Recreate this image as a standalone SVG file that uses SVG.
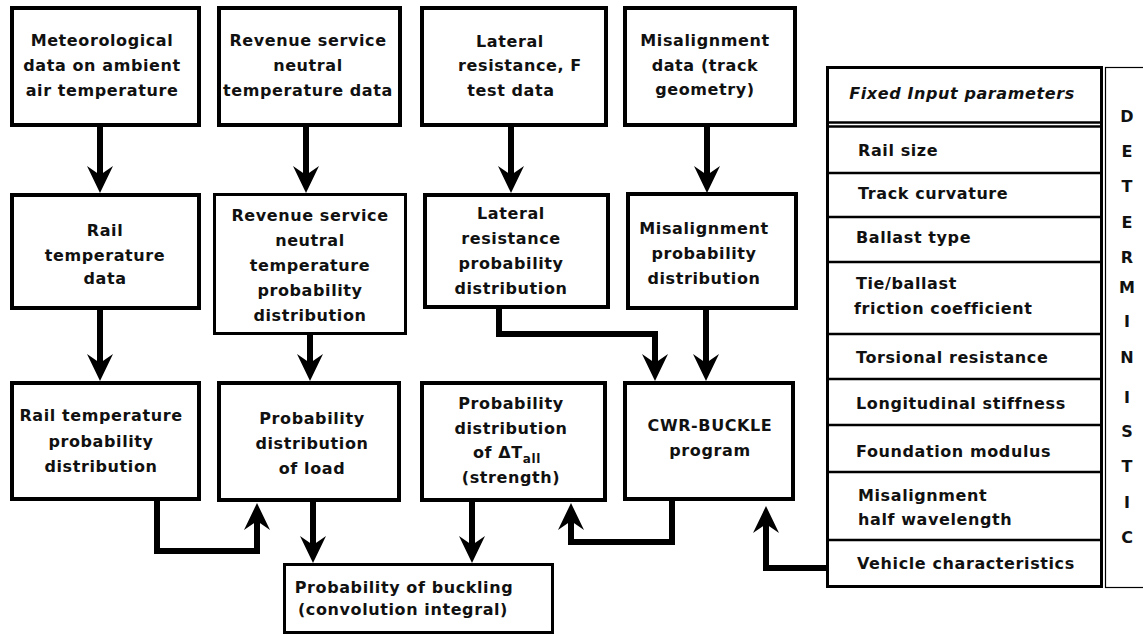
<svg xmlns="http://www.w3.org/2000/svg" width="1143" height="636" viewBox="0 0 1143 636">
<style>
  .bx { fill: #fff; stroke: #000; stroke-width: 4; }
  .bx3 { fill: #fff; stroke: #000; stroke-width: 3; }
  .t { font-family: "DejaVu Sans", Verdana, sans-serif; font-weight: bold; font-size: 16px; letter-spacing: 0.6px; fill: #111; text-anchor: middle; }
  .tl { font-family: "DejaVu Sans", Verdana, sans-serif; font-weight: bold; font-size: 16px; letter-spacing: 0.6px; fill: #111; }
  .tv { font-family: "DejaVu Sans", Verdana, sans-serif; font-weight: bold; font-size: 16px; fill: #111; text-anchor: middle; }
  .c { fill: none; stroke: #000; stroke-width: 6; stroke-linejoin: miter; }
  .sep { stroke: #000; stroke-width: 2.5; }
</style>
<defs>
  <marker id="ah" markerUnits="userSpaceOnUse" viewBox="0 0 27 26" refX="15" refY="13" markerWidth="27" markerHeight="26" orient="auto">
    <path d="M0,0 L27,13 L0,26 L9,13 Z" fill="#000"/>
  </marker>
</defs>
<rect width="1143" height="636" fill="#fff"/>

<g id="connectors">
  <path class="c" d="M100,127 V181" marker-end="url(#ah)"/>
  <path class="c" d="M306,127 V181" marker-end="url(#ah)"/>
  <path class="c" d="M511,127 V181" marker-end="url(#ah)"/>
  <path class="c" d="M707,127 V181" marker-end="url(#ah)"/>
  <path class="c" d="M100,310 V369" marker-end="url(#ah)"/>
  <path class="c" d="M310,335 V369" marker-end="url(#ah)"/>
  <path class="c" d="M499,309 V334 H655 V369" marker-end="url(#ah)"/>
  <path class="c" d="M706,310 V369" marker-end="url(#ah)"/>
  <path class="c" d="M157,501 V551 H257 V515" marker-end="url(#ah)"/>
  <path class="c" d="M313,502 V551" marker-end="url(#ah)"/>
  <path class="c" d="M472,502 V551" marker-end="url(#ah)"/>
  <path class="c" d="M672,501 V542 H571 V515" marker-end="url(#ah)"/>
  <path class="c" d="M826,568 H766 V518" marker-end="url(#ah)"/>
</g>

<g id="met">
  <rect class="bx" x="12" y="8" width="187" height="117"/>
  <text class="t" x="102" y="46">Meteorological</text>
  <text class="t" x="102" y="71">data on ambient</text>
  <text class="t" x="102" y="96">air temperature</text>
</g>
<g id="revdata">
  <rect class="bx" x="219" y="8" width="181" height="117"/>
  <text class="t" x="308" y="46">Revenue service</text>
  <text class="t" x="308" y="71">neutral</text>
  <text class="t" x="308" y="96">temperature data</text>
</g>
<g id="latdata">
  <rect class="bx" x="422" y="8" width="184" height="117"/>
  <text class="t" x="510" y="47">Lateral</text>
  <text class="t" x="520" y="71">resistance, F</text>
  <text class="t" x="511" y="96">test data</text>
</g>
<g id="misdata">
  <rect class="bx" x="625" y="8" width="170" height="117"/>
  <text class="t" x="705" y="46">Misalignment</text>
  <text class="t" x="705" y="71">data (track</text>
  <text class="t" x="705" y="95">geometry)</text>
</g>

<g id="railtemp">
  <rect class="bx" x="12" y="195" width="187" height="113"/>
  <text class="t" x="105" y="236">Rail</text>
  <text class="t" x="105" y="261">temperature</text>
  <text class="t" x="105" y="284">data</text>
</g>
<g id="revprob">
  <rect class="bx3" x="214.5" y="194.5" width="191" height="139"/>
  <text class="t" x="310" y="221">Revenue service</text>
  <text class="t" x="310" y="246">neutral</text>
  <text class="t" x="310" y="271">temperature</text>
  <text class="t" x="310" y="296">probability</text>
  <text class="t" x="310" y="321">distribution</text>
</g>
<g id="latprob">
  <rect class="bx" x="425" y="195" width="183" height="112"/>
  <text class="t" x="511" y="219">Lateral</text>
  <text class="t" x="511" y="244">resistance</text>
  <text class="t" x="511" y="269">probability</text>
  <text class="t" x="511" y="294">distribution</text>
</g>
<g id="misprob">
  <rect class="bx" x="628" y="194" width="168" height="114"/>
  <text class="t" x="704" y="234">Misalignment</text>
  <text class="t" x="704" y="259">probability</text>
  <text class="t" x="704" y="284">distribution</text>
</g>

<g id="railprob">
  <rect class="bx" x="12" y="383" width="187" height="116"/>
  <text class="t" x="101" y="421">Rail temperature</text>
  <text class="t" x="101" y="447">probability</text>
  <text class="t" x="101" y="472">distribution</text>
</g>
<g id="loadprob">
  <rect class="bx" x="219" y="383" width="180" height="117"/>
  <text class="t" x="312" y="424">Probability</text>
  <text class="t" x="312" y="449">distribution</text>
  <text class="t" x="312" y="474">of load</text>
</g>
<g id="strength">
  <rect class="bx" x="422" y="383" width="183" height="117"/>
  <text class="t" x="511" y="409">Probability</text>
  <text class="t" x="511" y="434">distribution</text>
  <text class="t" x="507" y="458">of ΔT<tspan font-size="12" dy="5">all</tspan></text>
  <text class="t" x="511" y="483">(strength)</text>
</g>
<g id="cwr">
  <rect class="bx" x="625" y="383" width="168" height="116"/>
  <text class="t" x="710" y="431">CWR-BUCKLE</text>
  <text class="t" x="710" y="456">program</text>
</g>
<g id="buckling">
  <rect class="bx3" x="284.5" y="564.5" width="268" height="68"/>
  <text class="t" x="404" y="593">Probability of buckling</text>
  <text class="t" x="403" y="615">(convolution integral)</text>
</g>

<g id="fixed">
  <rect x="827.5" y="67.5" width="274" height="519" fill="#fff" stroke="#000" stroke-width="3"/>
  <line class="sep" x1="826" y1="122.5" x2="1101" y2="122.5" stroke-width="1.6"/>
  <line class="sep" x1="826" y1="126.5" x2="1101" y2="126.5" stroke-width="1.6"/>
  <line class="sep" x1="826" y1="173" x2="1101" y2="173"/>
  <line class="sep" x1="826" y1="217" x2="1101" y2="217"/>
  <line class="sep" x1="826" y1="262" x2="1101" y2="262"/>
  <line class="sep" x1="826" y1="334" x2="1101" y2="334"/>
  <line class="sep" x1="826" y1="379" x2="1101" y2="379"/>
  <line class="sep" x1="826" y1="425" x2="1101" y2="425"/>
  <line class="sep" x1="826" y1="472" x2="1101" y2="472"/>
  <line class="sep" x1="826" y1="540" x2="1101" y2="540"/>
  <text class="t" x="962" y="99" font-style="italic">Fixed Input parameters</text>
  <text class="tl" x="858" y="156">Rail size</text>
  <text class="tl" x="858" y="199">Track curvature</text>
  <text class="tl" x="856" y="243">Ballast type</text>
  <text class="tl" x="856" y="289">Tie/ballast</text>
  <text class="tl" x="854" y="314">friction coefficient</text>
  <text class="tl" x="856" y="363">Torsional resistance</text>
  <text class="tl" x="856" y="409">Longitudinal stiffness</text>
  <text class="tl" x="856" y="457">Foundation modulus</text>
  <text class="tl" x="858" y="501">Misalignment</text>
  <text class="tl" x="858" y="525">half wavelength</text>
  <text class="tl" x="857" y="569">Vehicle characteristics</text>
</g>

<g id="deterministic">
  <rect x="1105.5" y="67.5" width="45" height="520" fill="#fff" stroke="#000" stroke-width="1.2"/>
  <text class="tv" x="1127" y="122">D</text>
  <text class="tv" x="1127" y="157">E</text>
  <text class="tv" x="1127" y="192">T</text>
  <text class="tv" x="1127" y="228">E</text>
  <text class="tv" x="1127" y="263">R</text>
  <text class="tv" x="1127" y="293">M</text>
  <text class="tv" x="1127" y="327">I</text>
  <text class="tv" x="1127" y="363">N</text>
  <text class="tv" x="1127" y="403">I</text>
  <text class="tv" x="1127" y="437">S</text>
  <text class="tv" x="1127" y="472">T</text>
  <text class="tv" x="1127" y="508">I</text>
  <text class="tv" x="1127" y="543">C</text>
</g>
</svg>
